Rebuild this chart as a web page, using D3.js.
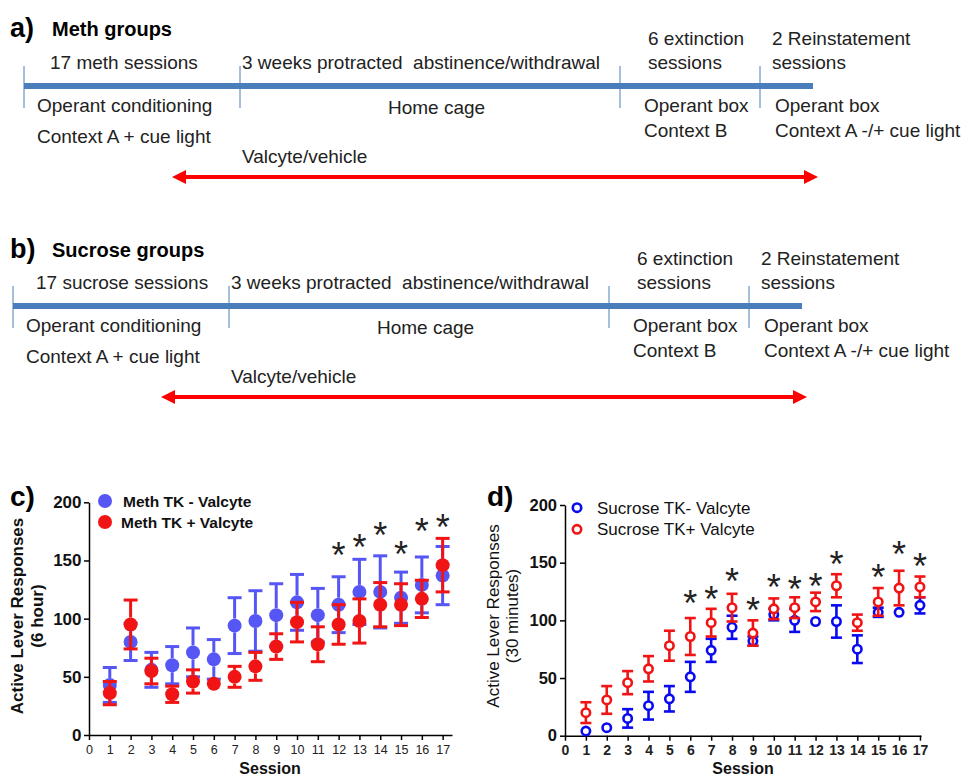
<!DOCTYPE html>
<html>
<head>
<meta charset="UTF-8">
<title>Meth and sucrose groups</title>
<script src="https://d3js.org/d3.v7.min.js"></script>
<style>
  body { margin: 0; background: #fff; }
  svg text { font-family: "Liberation Sans", Arial, sans-serif; }
</style>
</head>
<body>
<svg id="fig" width="968" height="778"></svg>
<script>

// ---- timeline text (panels a, b) ----
var methStages = [["17 meth sessions"], ["3 weeks protracted  abstinence/withdrawal"], ["6 extinction", "sessions"], ["2 Reinstatement", "sessions"]];
var sucroseStages = [["17 sucrose sessions"], ["3 weeks protracted  abstinence/withdrawal"], ["6 extinction", "sessions"], ["2 Reinstatement", "sessions"]];
var places = [["Operant conditioning", "Context A + cue light"], ["Home cage"], ["Operant box", "Context B"], ["Operant box", "Context A -/+ cue light"]];
var drugLabel = "Valcyte/vehicle";

// ---- panel c: meth, 6 hour ----
var sessionTicks = [0, 1, 2, 3, 4, 5, 6, 7, 8, 9, 10, 11, 12, 13, 14, 15, 16, 17];
var yTicks = [0, 50, 100, 150, 200];
var sessions = [1, 2, 3, 4, 5, 6, 7, 8, 9, 10, 11, 12, 13, 14, 15, 16, 17];

var methMinusMean = [43, 80, 56, 60, 71, 65, 94, 98, 103, 114, 103, 112, 123, 123, 118, 129, 137];
var methMinusSem  = [15, 16, 15, 16, 21, 17, 24, 26, 27, 24, 23, 24, 28, 31, 22, 24, 25];
var methPlusMean  = [36, 95, 55, 35, 46, 44, 50, 59, 76, 97, 78, 95, 98, 112, 112, 117, 146];
var methPlusSem   = [10, 21, 11, 7, 10, 3, 9, 12, 11, 17, 15, 17, 19, 19, 18, 16, 23];
var methStarSessions = [12, 13, 14, 15, 16, 17];
var methStarLevel    = [161, 168, 178, 162, 181, 185];

// ---- panel d: sucrose, 30 minutes ----
var sucMinusMean = [4, 7, 15, 26, 32, 51, 74, 94, 82, 105, 100, 99, 99, 75, 107, 107, 113];
var sucMinusSem  = [2, 2, 8, 12, 11, 13, 10, 10, 4, 5, 10, 2, 14, 12, 4, 2, 7];
var sucPlusMean  = [20, 31, 46, 58, 78, 86, 98, 111, 89, 110, 111, 116, 130, 98, 116, 128, 129];
var sucPlusSem   = [9, 12, 10, 11, 13, 16, 12, 12, 11, 9, 9, 8, 10, 7, 12, 15, 9];
var sucStarSessions = [6, 7, 8, 9, 10, 11, 12, 13, 15, 16, 17];
var sucStarLevel    = [121, 125, 140, 115, 135, 133, 136, 155, 144, 164, 153];


var svg = d3.select("#fig");
var barBlue = "#4a7ebb";

function drawTimeline(dx, dy, stages, firstX) {
  var g = svg.append("g").attr("transform", "translate(" + dx + "," + dy + ")");
  var topX = [firstX, 242, 648, 772];
  var botX = [37, 388, 644, 775];

  g.append("line")
    .attr("x1", 24).attr("x2", 813).attr("y1", 86).attr("y2", 86)
    .attr("stroke", barBlue).attr("stroke-width", 6);

  g.selectAll(".tk").data([24, 240, 620, 760]).join("line")
    .attr("class", "tk")
    .attr("x1", function(d) { return d; }).attr("x2", function(d) { return d; })
    .attr("y1", 66).attr("y2", 108)
    .attr("stroke", barBlue).attr("stroke-width", 1);

  stages.forEach(function(lines, i) {
    lines.forEach(function(t, j) {
      g.append("text")
        .attr("x", topX[i])
        .attr("y", lines.length == 1 ? 69 : (j == 0 ? 45 : 69))
        .attr("font-size", 19).attr("fill", "#222")
        .attr("xml:space", "preserve")
        .text(t);
    });
  });

  places.forEach(function(lines, i) {
    lines.forEach(function(t, j) {
      g.append("text")
        .attr("x", botX[i])
        .attr("y", j == 0 ? (i == 1 ? 114 : 112) : (i == 0 ? 143 : 137))
        .attr("font-size", 19).attr("fill", "#222")
        .text(t);
    });
  });

  g.append("text").attr("x", 242).attr("y", 163)
    .attr("font-size", 19).attr("fill", "#222").text(drugLabel);

  // red double arrow
  var ay = 177, ax1 = 172, ax2 = 818;
  g.append("line").attr("x1", ax1 + 10).attr("x2", ax2 - 10).attr("y1", ay).attr("y2", ay)
    .attr("stroke", "#ff0000").attr("stroke-width", 4);
  g.append("path")
    .attr("d", "M" + ax1 + "," + ay + "L" + (ax1 + 14) + "," + (ay - 7) + "L" + (ax1 + 14) + "," + (ay + 7) + "Z")
    .attr("fill", "#ff0000");
  g.append("path")
    .attr("d", "M" + ax2 + "," + ay + "L" + (ax2 - 14) + "," + (ay - 7) + "L" + (ax2 - 14) + "," + (ay + 7) + "Z")
    .attr("fill", "#ff0000");
}

drawTimeline(0, 0, methStages, 50);
drawTimeline(-11, 220, sucroseStages, 47);

// panel titles
svg.append("text").attr("x", 10).attr("y", 37).attr("font-size", 27).attr("font-weight", "bold").text("a)");
svg.append("text").attr("x", 52).attr("y", 36).attr("font-size", 20).attr("font-weight", "bold").text("Meth groups");
svg.append("text").attr("x", 10).attr("y", 258).attr("font-size", 27).attr("font-weight", "bold").text("b)");
svg.append("text").attr("x", 52).attr("y", 257).attr("font-size", 20).attr("font-weight", "bold").text("Sucrose groups");


function drawSeries(g, x, y, means, sems, color, hollow, r, capHalf, sw) {
  var rows = sessions.map(function(s, i) { return {s: s, m: means[i], e: sems[i]}; });
  var pts = g.append("g").selectAll("g").data(rows).join("g");

  pts.each(function(d) {
    var el = d3.select(this);
    var cx = x(d.s), cy = y(d.m);
    var up = y(d.m + d.e), dn = y(d.m - d.e);
    if (cy - up > r) {
      el.append("line").attr("x1", cx).attr("x2", cx).attr("y1", cy - r).attr("y2", up)
        .attr("stroke", color).attr("stroke-width", sw);
      el.append("line").attr("x1", cx - capHalf).attr("x2", cx + capHalf).attr("y1", up).attr("y2", up)
        .attr("stroke", color).attr("stroke-width", sw);
    }
    if (dn - cy > r) {
      el.append("line").attr("x1", cx).attr("x2", cx).attr("y1", cy + r).attr("y2", dn)
        .attr("stroke", color).attr("stroke-width", sw);
      el.append("line").attr("x1", cx - capHalf).attr("x2", cx + capHalf).attr("y1", dn).attr("y2", dn)
        .attr("stroke", color).attr("stroke-width", sw);
    }
    el.append("circle").attr("cx", cx).attr("cy", cy).attr("r", r)
      .attr("fill", hollow ? "#fff" : color)
      .attr("stroke", color).attr("stroke-width", hollow ? sw : 0);
  });
}

function drawChart(cfg) {
  var x = d3.scaleLinear().domain([0, cfg.xMax]).range([cfg.left, cfg.right]);
  var y = d3.scaleLinear().domain([0, 200]).range([cfg.bottom, cfg.top]);
  var g = svg.append("g");

  var gx = g.append("g")
    .attr("transform", "translate(0," + cfg.bottom + ")")
    .call(d3.axisBottom(x).tickValues(sessionTicks).tickSize(5).tickSizeOuter(0).tickPadding(cfg.xPad));
  gx.selectAll("text").attr("font-size", cfg.xFont).attr("font-weight", cfg.xWeight).attr("fill", "#222")
    .attr("font-family", "Liberation Sans, Arial, sans-serif");

  var gy = g.append("g")
    .attr("transform", "translate(" + cfg.left + ",0)")
    .call(d3.axisLeft(y).tickValues(yTicks).tickSize(5).tickSizeOuter(0).tickPadding(cfg.yPad));
  gy.selectAll("text").attr("font-size", cfg.yFont).attr("font-weight", "bold").attr("fill", "#111")
    .attr("font-family", "Liberation Sans, Arial, sans-serif");

  g.selectAll(".domain, .tick line").attr("stroke", "#000").attr("stroke-width", 1.5);

  cfg.series.forEach(function(s) {
    drawSeries(g, x, y, s.mean, s.sem, s.color, cfg.hollow, cfg.r, cfg.cap, cfg.sw);
  });

  // significance stars
  g.selectAll(".star").data(cfg.starS.map(function(s, i) { return {s: s, v: cfg.starV[i]}; }))
    .join("text").attr("class", "star")
    .attr("x", function(d) { return x(d.s); })
    .attr("y", function(d) { return y(d.v) + 20; })
    .attr("text-anchor", "middle").attr("font-size", 36).attr("fill", "#222")
    .text("*");

  // legend
  cfg.series.forEach(function(s, i) {
    var ly = cfg.legY[i];
    g.append("circle").attr("cx", cfg.legX).attr("cy", ly).attr("r", cfg.legR)
      .attr("fill", cfg.hollow ? "#fff" : s.color)
      .attr("stroke", s.color).attr("stroke-width", cfg.hollow ? cfg.sw : 0);
    g.append("text").attr("x", cfg.legTextX[i]).attr("y", ly + cfg.legFont * 0.36)
      .attr("font-size", cfg.legFont).attr("font-weight", cfg.legWeight).attr("fill", "#111")
      .text(s.name);
  });

  // axis titles
  g.append("text").attr("x", cfg.sessX).attr("y", cfg.sessY).attr("text-anchor", "middle")
    .attr("font-size", 16).attr("font-weight", "bold").attr("fill", "#111").text("Session");
  g.append("text")
    .attr("transform", "translate(" + cfg.yt1x + "," + cfg.ytY + ") rotate(-90)")
    .attr("text-anchor", "middle").attr("font-size", 17).attr("font-weight", cfg.ytWeight).attr("fill", "#111")
    .text("Active Lever Responses");
  g.append("text")
    .attr("transform", "translate(" + cfg.yt2x + "," + cfg.ytY + ") rotate(-90)")
    .attr("text-anchor", "middle").attr("font-size", 17).attr("font-weight", cfg.ytWeight).attr("fill", "#111")
    .text(cfg.unit);

  svg.append("text").attr("x", cfg.letterX).attr("y", 506).attr("font-size", 28).attr("font-weight", "bold")
    .text(cfg.letter);
}

drawChart({
  letter: "c)", letterX: 10,
  left: 89, right: 452, xMax: 17.45, top: 502.3, bottom: 735,
  xPad: 5, xFont: 12.5, xWeight: "normal", yPad: 2.5, yFont: 17,
  hollow: false, r: 7, cap: 7, sw: 3,
  series: [
    {name: "Meth TK - Valcyte", mean: methMinusMean, sem: methMinusSem, color: "#5656f4"},
    {name: "Meth TK + Valcyte", mean: methPlusMean, sem: methPlusSem, color: "#f01414"}
  ],
  starS: methStarSessions, starV: methStarLevel,
  legX: 105, legY: [501, 522], legR: 7, legTextX: [123, 121], legFont: 15.5, legWeight: "bold",
  sessX: 270, sessY: 774,
  yt1x: 23, yt2x: 43, ytY: 616, ytWeight: "bold", unit: "(6 hour)"
});

drawChart({
  letter: "d)", letterX: 487,
  left: 565, right: 921, xMax: 17.05, top: 505, bottom: 735.7,
  xPad: 4, xFont: 14, xWeight: "bold", yPad: 3, yFont: 16.5,
  hollow: true, r: 4.2, cap: 5.5, sw: 2.6,
  series: [
    {name: "Sucrose TK- Valcyte", mean: sucMinusMean, sem: sucMinusSem, color: "#0a0af0"},
    {name: "Sucrose TK+ Valcyte", mean: sucPlusMean, sem: sucPlusSem, color: "#f01414"}
  ],
  starS: sucStarSessions, starV: sucStarLevel,
  legX: 577, legY: [507.7, 529.3], legR: 4.2, legTextX: [597, 597], legFont: 17, legWeight: "normal",
  sessX: 743, sessY: 774,
  yt1x: 499, yt2x: 518, ytY: 616, ytWeight: "normal", unit: "(30 minutes)"
});

</script>
</body>
</html>
